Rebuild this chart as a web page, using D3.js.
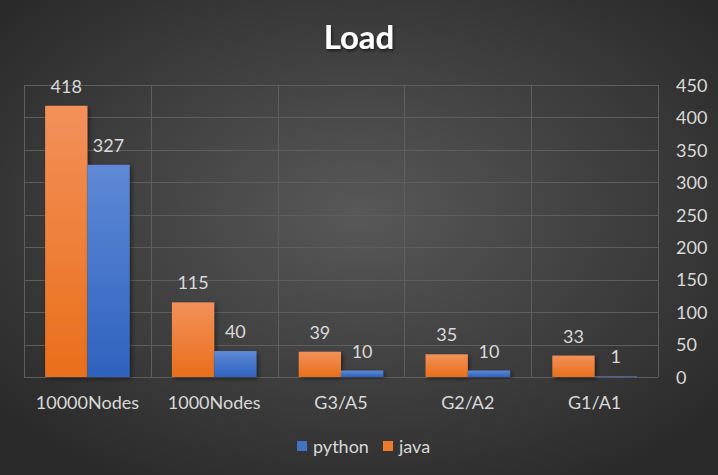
<!DOCTYPE html>
<html>
<head>
<meta charset="utf-8">
<script src="https://cdn.jsdelivr.net/npm/d3@7/dist/d3.min.js"></script>
<style>
html,body{margin:0;padding:0;background:#333;}
svg{display:block;}
</style>
</head>
<body>
<svg id="chart" width="718" height="475"></svg>
<script>
const categories = ["10000Nodes", "1000Nodes", "G3/A5", "G2/A2", "G1/A1"];
const javaValues = [418, 115, 39, 35, 33];
const pythonValues = [327, 40, 10, 10, 1];
const yTicks = [0, 50, 100, 150, 200, 250, 300, 350, 400, 450];
const seriesNames = ["java", "python"];
const legendOrder = ["python", "java"];
const title = "Load";

const W = 718, H = 475;
const plot = {left: 24, right: 658, top: 85, bottom: 377};
const svg = d3.select("#chart");
const font = "Lato, 'Open Sans', sans-serif";
const txtColor = "#d9d9d9";

const defs = svg.append("defs");
const bg = defs.append("radialGradient").attr("id","bg")
  .attr("cx","50%").attr("cy","45%").attr("r","65%");
bg.append("stop").attr("offset","0%").attr("stop-color","#585858");
bg.append("stop").attr("offset","100%").attr("stop-color","#2a2a2a");

const og = defs.append("linearGradient").attr("id","gjava").attr("x1",0).attr("y1",0).attr("x2",0).attr("y2",1);
og.append("stop").attr("offset","0%").attr("stop-color","#f3915a");
og.append("stop").attr("offset","100%").attr("stop-color","#e96f1a");
const bgr = defs.append("linearGradient").attr("id","gpython").attr("x1",0).attr("y1",0).attr("x2",0).attr("y2",1);
bgr.append("stop").attr("offset","0%").attr("stop-color","#5f89d6");
bgr.append("stop").attr("offset","100%").attr("stop-color","#2e62be");

const sh = defs.append("filter").attr("id","shadow").attr("x","-20%").attr("y","-20%").attr("width","140%").attr("height","140%");
sh.append("feDropShadow").attr("dx",2).attr("dy",2).attr("stdDeviation",2).attr("flood-color","#000").attr("flood-opacity",0.45);
const tsh = defs.append("filter").attr("id","tshadow").attr("x","-20%").attr("y","-20%").attr("width","140%").attr("height","140%");
tsh.append("feDropShadow").attr("dx",1).attr("dy",2).attr("stdDeviation",1.5).attr("flood-color","#000").attr("flood-opacity",0.6);

svg.append("rect").attr("width",W).attr("height",H).attr("fill","url(#bg)");

const x0 = d3.scaleBand().domain(categories).range([plot.left, plot.right]).paddingInner(0).paddingOuter(0);
const x1 = d3.scaleBand().domain(seriesNames).range([0, x0.bandwidth()]).paddingInner(0).paddingOuter(0.5);
const y = d3.scaleLinear().domain([0, 450]).range([plot.bottom, plot.top]);

// horizontal gridlines
svg.append("g").selectAll("line").data(yTicks).join("line")
  .attr("x1", plot.left).attr("x2", plot.right)
  .attr("y1", d => Math.round(y(d)) + 0.5).attr("y2", d => Math.round(y(d)) + 0.5)
  .attr("stroke", "#5e5e5e").attr("stroke-width", 1);
// vertical gridlines
const vx = categories.map(c => x0(c)).concat([plot.right]);
svg.append("g").selectAll("line").data(vx).join("line")
  .attr("x1", d => Math.round(d) + 0.5).attr("x2", d => Math.round(d) + 0.5)
  .attr("y1", plot.top).attr("y2", plot.bottom)
  .attr("stroke", "#5e5e5e").attr("stroke-width", 1);

// right axis labels
const yAxis = d3.axisRight(y).tickValues(yTicks).tickSize(0).tickPadding(0);
const ya = svg.append("g").attr("transform", `translate(676,0)`).call(yAxis);
ya.select(".domain").remove();
ya.selectAll("text").attr("fill", txtColor).attr("font-family", font).attr("font-size", 18).attr("dy","0.35em");

const data = categories.map((c, i) => ({cat: c, java: javaValues[i], python: pythonValues[i]}));

const groups = svg.append("g").selectAll("g").data(data).join("g")
  .attr("transform", d => `translate(${x0(d.cat)},0)`);

groups.selectAll("rect").data(d => seriesNames.map(s => ({s, v: d[s]}))).join("rect")
  .attr("x", d => x1(d.s)).attr("width", x1.bandwidth())
  .attr("y", d => y(d.v)).attr("height", d => y(0) - y(d.v))
  .attr("fill", d => `url(#g${d.s})`).attr("filter", "url(#shadow)");

groups.selectAll("text.val").data(d => seriesNames.map(s => ({s, v: d[s]}))).join("text")
  .attr("class","val")
  .attr("x", d => x1(d.s) + x1.bandwidth()/2)
  .attr("y", d => y(d.v) - 13)
  .attr("text-anchor","middle").attr("fill", txtColor)
  .attr("font-family", font).attr("font-size", 18)
  .text(d => d.v);

// category axis labels
const xAxis = d3.axisBottom(x0).tickSize(0).tickPadding(0);
const xa = svg.append("g").attr("transform", `translate(0,395)`).call(xAxis);
xa.select(".domain").remove();
xa.selectAll("text").attr("fill", txtColor).attr("font-family", font).attr("font-size", 18).attr("dy","0.78em");

// title
svg.append("text").attr("x", 359).attr("y", 49).attr("text-anchor","middle")
  .attr("fill","#ffffff").attr("font-family", font).attr("font-weight","bold").attr("font-size", 33)
  .attr("filter","url(#tshadow)").text(title);

// legend
const legendPos = {python: 297, java: 383};
const lg = svg.append("g").selectAll("g").data(legendOrder).join("g")
  .attr("transform", d => `translate(${legendPos[d]},441)`);
lg.append("rect").attr("width",10).attr("height",10).attr("fill", d => d === "java" ? "#ee7b2d" : "#4472c4");
lg.append("text").attr("x",16).attr("y",12).attr("fill", txtColor).attr("font-family", font).attr("font-size",18).text(d => d);
</script>
</body>
</html>
